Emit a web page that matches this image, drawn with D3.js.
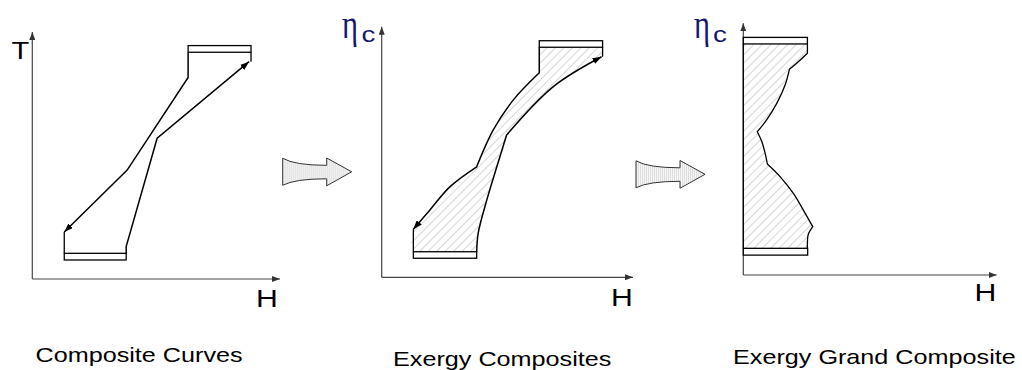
<!DOCTYPE html>
<html>
<head>
<meta charset="utf-8">
<script src="https://cdn.jsdelivr.net/npm/d3@7"></script>
<style>
	body { margin: 0; background: #fff; }
	svg { display: block; font-family: 'Liberation Sans', Arial, sans-serif; }
</style>
</head>
<body>
<svg id="chart" width="1022" height="370"></svg>
<script>
// text
const panelTitles = ['Composite Curves', 'Exergy Composites', 'Exergy Grand Composite'];
const yLabels = ['T', 'η', 'η'];
const ySubs = ['', 'c', 'c'];
const xLabel = 'H';

// points are [H, T] in % of the axis length; each stream is a list of segments
// composite curves
const ccHot = [[[62.9, 91.8], [62.9, 81.6]], [[62.9, 81.6], [38.3, 44.1]], [[38.3, 44.1], [12.9, 19.0]]];
const ccCold = [[[37.9, 10.4], [37.9, 13.1]], [[37.9, 13.1], [50.4, 57.0]], [[50.4, 57.0], [87.5, 88.0]]];
const ccHotUtility = [[62.9, 91.8], [88.3, 94.5]];
const ccColdUtility = [[12.9, 7.7], [37.9, 10.4]];

// exergy composites
const ecHot = [
	[[62.7, 91.8], [62.7, 81.6]],
	[[62.7, 81.6], [52.4, 70.8], [44.4, 58.8], [37.8, 44.1]],
	[[37.8, 44.1], [27.2, 36.2], [19.2, 26.9], [12.6, 19.2]]
];
const ecCold = [
	[[37.8, 10.2], [38.4, 17.6], [41.8, 30.8], [45.8, 44.1], [49.7, 56.8]],
	[[49.7, 56.8], [68.3, 76.1], [87.5, 88.0]]
];
const ecHotUtility = [[62.7, 91.8], [87.9, 94.4]];
const ecColdUtility = [[12.6, 7.6], [37.8, 10.2]];

// exergy grand composite (right edge, top to bottom)
const egcProfile = [
	[[25.3, 91.8], [25.3, 88.1]],
	[[25.3, 88.1], [21.7, 84.7], [18.2, 81.7]],
	[[18.2, 81.7], [16.5, 75.5], [13.2, 68.2], [9.2, 61.6], [5.5, 56.9]],
	[[5.5, 56.9], [7.3, 53.0], [8.6, 48.4], [9.5, 44.1]],
	[[9.5, 44.1], [14.5, 39.1], [19.7, 32.5], [23.7, 25.8], [27.4, 19.2]],
	[[27.4, 19.2], [25.6, 16.0], [25.3, 12.5], [25.3, 10.6]]
];
const egcHotUtility = [[0, 91.8], [25.3, 94.4]];
const egcColdUtility = [[0, 7.9], [25.4, 10.6]];

// layout
const frames = [
	{ x: [32.3, 280], y: [279, 32], yLab: [11.5, 58.5], sub: null, hLab: [256, 307], title: [35.5, 361.7] },
	{ x: [381.7, 633], y: [277.3, 26.7], yLab: [342, 37.5], sub: [361.5, 41.7], hLab: [611, 306], title: [393, 366] },
	{ x: [743.3, 996.7], y: [275, 23.3], yLab: [694, 37.5], sub: [713, 41.7], hLab: [974.5, 301], title: [733, 364] }
];
const fatArrows = [[282.7, 171.8], [636, 174.3]];
const stretch = 1.26;

const svg = d3.select('#chart');
const defs = svg.append('defs');

function marker(id, w, h, color) {
	defs.append('marker').attr('id', id)
		.attr('viewBox', `0 0 ${w} ${h}`).attr('refX', w).attr('refY', h / 2)
		.attr('markerWidth', w).attr('markerHeight', h)
		.attr('markerUnits', 'userSpaceOnUse').attr('orient', 'auto')
		.append('path').attr('d', `M0,0L${w},${h / 2}L0,${h}Z`).attr('fill', color);
}
marker('axisHead', 8, 6, '#333');
marker('curveHead', 9, 6.5, '#000');

defs.append('pattern').attr('id', 'hatch')
	.attr('patternUnits', 'userSpaceOnUse').attr('width', 6).attr('height', 6)
	.attr('patternTransform', 'rotate(45)')
	.append('line').attr('x1', 0).attr('y1', 0).attr('x2', 0).attr('y2', 6)
	.attr('stroke', '#b4b4b4').attr('stroke-width', 1.1);
let stripe = defs.append('pattern').attr('id', 'stripe')
	.attr('patternUnits', 'userSpaceOnUse').attr('width', 2).attr('height', 4);
stripe.append('rect').attr('width', 2).attr('height', 4).attr('fill', '#f6f6f6');
stripe.append('line').attr('x1', 0.5).attr('x2', 0.5).attr('y1', 0).attr('y2', 4)
	.attr('stroke', '#dedede').attr('stroke-width', 1);

function sansText(x, y, str, size) {
	return svg.append('text')
		.attr('transform', `translate(${x},${y}) scale(${stretch},1)`)
		.style('font-size', size + 'px')
		.text(str);
}

function segPath(line, segs) {
	// join segments into one path string
	return segs.map((s, i) => i ? line(s).replace(/^M/, 'L') : line(s)).join('');
}

function drawPanel(i, opt) {
	let f = frames[i];
	let x = d3.scaleLinear().domain([0, 100]).range(f.x);
	let y = d3.scaleLinear().domain([0, 100]).range(f.y);
	let g = svg.append('g');
	let line = d3.line().x(d => x(d[0])).y(d => y(d[1])).curve(opt.curve);
	let straight = d3.line().x(d => x(d[0])).y(d => y(d[1]));

	// axes
	g.append('line').attr('x1', x(0)).attr('y1', y(0)).attr('x2', x(100)).attr('y2', y(0))
		.attr('stroke', '#444').attr('stroke-width', 1.2).attr('marker-end', 'url(#axisHead)');
	g.append('line').attr('x1', x(0)).attr('y1', y(0)).attr('x2', x(0)).attr('y2', y(100))
		.attr('stroke', '#444').attr('stroke-width', 1.2).attr('marker-end', 'url(#axisHead)');

	let hu = opt.hotUtil, cu = opt.coldUtil;

	if (opt.profile) {
		// grand composite pocket area
		let outline = [[[hu[0][0], hu[0][1]], opt.profile[0][0]]].concat(opt.profile)
			.concat([[opt.profile[opt.profile.length - 1].slice(-1)[0], [cu[0][0], cu[1][1]]]]);
		g.append('path').attr('d', segPath(line, outline) + 'Z')
			.attr('fill', 'url(#hatch)').attr('stroke', 'none');
		g.append('path').attr('d', segPath(line, opt.profile))
			.attr('fill', 'none').attr('stroke', '#000').attr('stroke-width', 1.3);
		g.append('line').attr('x1', x(0)).attr('y1', y(cu[1][1])).attr('x2', x(0)).attr('y2', y(hu[0][1]))
			.attr('stroke', '#000').attr('stroke-width', 1.3);
	} else {
		let hotEnd = opt.hot[opt.hot.length - 1].slice(-1)[0];
		let coldEnd = opt.cold[opt.cold.length - 1].slice(-1)[0];
		if (opt.hatch) {
			let rev = opt.cold.slice().reverse().map(s => s.slice().reverse());
			let hrev = opt.hot.slice().reverse().map(s => s.slice().reverse());
			let outline = [[[hu[0][0], hu[0][1]], [hu[1][0], hu[0][1]], [hu[1][0], coldEnd[1]]]]
				.concat(rev)
				.concat([[[cu[1][0], cu[1][1]], [cu[0][0], cu[1][1]], [cu[0][0], hotEnd[1]]]])
				.concat(hrev);
			g.append('path').attr('d', segPath(line, outline) + 'Z')
				.attr('fill', 'url(#hatch)').attr('stroke', 'none');
		}
		// utility edges joining the curves
		g.append('path').attr('d', straight([[hu[1][0], hu[0][1]], [hu[1][0], coldEnd[1]]]))
			.attr('fill', 'none').attr('stroke', '#000').attr('stroke-width', 1.3);
		g.append('path').attr('d', straight([[cu[0][0], cu[1][1]], [cu[0][0], hotEnd[1]]]))
			.attr('fill', 'none').attr('stroke', '#000').attr('stroke-width', 1.3);
		for (let stream of [opt.hot, opt.cold]) {
			g.append('path').attr('d', segPath(line, stream))
				.attr('fill', 'none').attr('stroke', '#000').attr('stroke-width', 1.5)
				.attr('marker-end', 'url(#curveHead)');
		}
	}

	// utilities
	for (let u of [hu, cu]) {
		g.append('rect')
			.attr('x', x(u[0][0])).attr('y', y(u[1][1]))
			.attr('width', x(u[1][0]) - x(u[0][0])).attr('height', y(u[0][1]) - y(u[1][1]))
			.attr('fill', '#fff').attr('stroke', '#000').attr('stroke-width', 1.3);
	}

	// labels
	if (f.sub) {
		svg.append('text').attr('x', f.yLab[0]).attr('y', f.yLab[1])
			.attr('textLength', 16).attr('lengthAdjust', 'spacingAndGlyphs')
			.style('font-family', "'Liberation Serif', serif").style('font-size', '40px')
			.attr('fill', '#16166e').text(yLabels[i]);
		sansText(f.sub[0], f.sub[1], ySubs[i], 22).attr('fill', '#16166e');
	} else {
		sansText(f.yLab[0], f.yLab[1], yLabels[i], 23);
	}
	sansText(f.hLab[0], f.hLab[1], xLabel, 24);
	sansText(f.title[0], f.title[1], panelTitles[i], 20);
}

drawPanel(0, { hot: ccHot, cold: ccCold, hotUtil: ccHotUtility, coldUtil: ccColdUtility, curve: d3.curveLinear, hatch: false });
drawPanel(1, { hot: ecHot, cold: ecCold, hotUtil: ecHotUtility, coldUtil: ecColdUtility, curve: d3.curveCatmullRom, hatch: true });
drawPanel(2, { profile: egcProfile, hotUtil: egcHotUtility, coldUtil: egcColdUtility, curve: d3.curveCatmullRom });

// block arrows between panels
let p = d3.path();
p.moveTo(0, -13.5);
p.quadraticCurveTo(12, -6.5, 44, -6.5);
p.lineTo(44, -13.8);
p.lineTo(69, 0);
p.lineTo(44, 14);
p.lineTo(44, 7);
p.quadraticCurveTo(12, 7, 0, 13.5);
p.closePath();
svg.selectAll('path.fat').data(fatArrows).join('path')
	.attr('class', 'fat')
	.attr('transform', d => `translate(${d[0]},${d[1]})`)
	.attr('d', p.toString())
	.attr('fill', 'url(#stripe)').attr('stroke', '#333').attr('stroke-width', 1);
</script>
</body>
</html>
